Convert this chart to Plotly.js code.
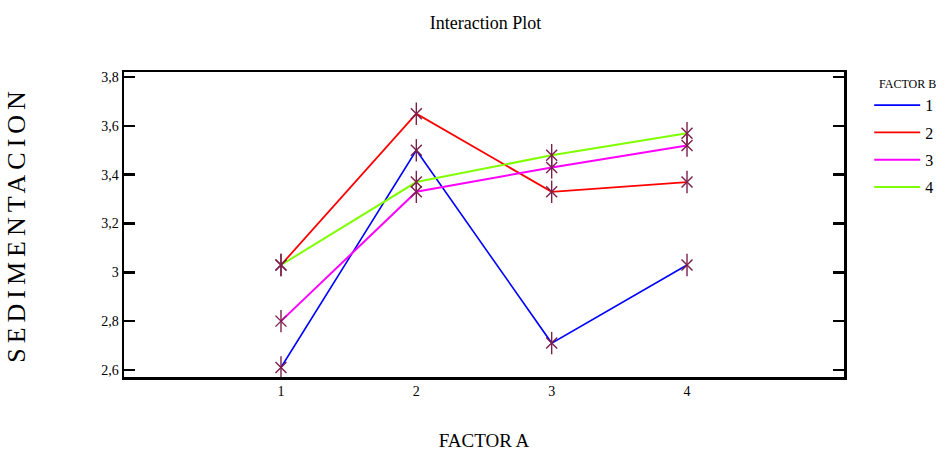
<!DOCTYPE html>
<html>
<head>
<meta charset="utf-8">
<script src="https://cdn.plot.ly/plotly-3.0.1.min.js"></script>
<style>
  html, body { margin: 0; padding: 0; background: #fff; }
  #chart { width: 950px; height: 457px; }
  .ytitle { letter-spacing: 5px; }
</style>
</head>
<body>
<div id="chart"></div>
<script>
// Categories of FACTOR A
const factorA = [1, 2, 3, 4];
const factorALabels = ['1', '2', '3', '4'];

// Mean SEDIMENTACION per FACTOR B level
const seriesNames = ['1', '2', '3', '4'];
const b1 = [2.61, 3.50, 2.71, 3.03];
const b2 = [3.03, 3.65, 3.33, 3.37];
const b3 = [2.80, 3.33, 3.43, 3.52];
const b4 = [3.03, 3.37, 3.48, 3.57];

// Y tick labels
const yTickVals = [2.6, 2.8, 3.0, 3.2, 3.4, 3.6, 3.8];
const yTickText = ['2,6', '2,8', '3', '3,2', '3,4', '3,6', '3,8'];

const seriesValues = [b1, b2, b3, b4];
const colors = ['#0000ff', '#ff0000', '#ff00ff', '#80ff00'];
const widths = [1.6, 1.8, 2, 2];
const markerColor = '#7b1f4b';
const FONT = '"Liberation Serif", "Times New Roman", serif';

const traces = [];
seriesValues.forEach((vals, i) => {
  traces.push({
    x: factorA, y: vals, type: 'scatter', mode: 'lines',
    name: seriesNames[i], legendgroup: 'g' + i,
    line: {color: colors[i], width: widths[i]},
    hoverinfo: 'x+y+name'
  });
});
seriesValues.forEach((vals, i) => {
  traces.push({
    x: factorA, y: vals, type: 'scatter', mode: 'markers',
    showlegend: false, hoverinfo: 'skip',
    marker: {symbol: 'line-ns-open', size: 16, color: markerColor, line: {color: markerColor, width: 1.4}}
  });
  traces.push({
    x: factorA, y: vals, type: 'scatter', mode: 'markers',
    showlegend: false, hoverinfo: 'skip',
    marker: {symbol: 'x-thin-open', size: 11, color: markerColor, line: {color: markerColor, width: 1.4}}
  });
});

const layout = {
  width: 950, height: 457,
  margin: {l: 124, r: 101, t: 72, b: 80},
  paper_bgcolor: '#ffffff', plot_bgcolor: '#ffffff',
  font: {family: FONT, color: '#000', size: 14},
  title: {text: 'Interaction Plot', font: {family: FONT, size: 18, color: '#000'}, x: 0.511, xanchor: 'center', y: 0.95, yanchor: 'middle'},
  xaxis: {
    range: [-0.16, 5.16], tickvals: factorA, ticktext: factorALabels,
    showgrid: false, zeroline: false, showline: true, linecolor: '#000', linewidth: 2.5,
    mirror: true, ticks: '', tickfont: {family: FONT, size: 14},
    title: {text: 'FACTOR A', font: {family: FONT, size: 19}, standoff: 36},
    automargin: false
  },
  yaxis: {
    range: [2.571, 3.821], tickvals: yTickVals, ticktext: yTickText,
    showgrid: false, zeroline: false, showline: true, linecolor: '#000', linewidth: 2.5,
    mirror: 'ticks', ticks: 'inside', ticklen: 11, tickwidth: 2.5, tickcolor: '#000',
    tickfont: {family: FONT, size: 14},
    title: {text: 'SEDIMENTACION', font: {family: FONT, size: 26}, standoff: 68},
    automargin: false
  },
  showlegend: true,
  legend: {
    x: 1.035, xanchor: 'left', y: 0.998, yanchor: 'top',
    bgcolor: 'rgba(0,0,0,0)', borderwidth: 0,
    traceorder: 'grouped', tracegroupgap: 3.5, itemwidth: 46,
    font: {family: FONT, size: 16, color: '#000'},
    title: {text: 'FACTOR B', side: 'top right', font: {family: FONT, size: 12}}
  }
};

Plotly.newPlot('chart', traces, layout, {displayModeBar: false, staticPlot: true});
</script>
</body>
</html>
